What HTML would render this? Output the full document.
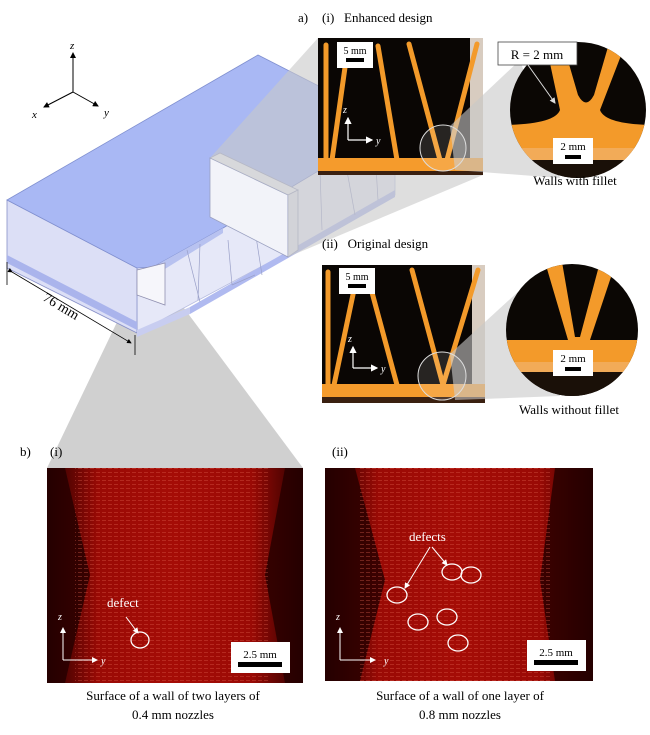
<!DOCTYPE html>
<html><head><meta charset="utf-8"><style>
html,body{margin:0;padding:0;background:#fff;}
svg{display:block;font-family:"Liberation Serif",serif;}
</style></head><body>
<svg width="650" height="735" viewBox="0 0 650 735" xmlns="http://www.w3.org/2000/svg">
<defs>
<marker id="ah" markerWidth="6" markerHeight="6" refX="5" refY="3" orient="auto"><path d="M0,0 L6,3 L0,6z" fill="#000"/></marker>
<marker id="aw" markerWidth="6" markerHeight="6" refX="5" refY="3" orient="auto"><path d="M0,0 L6,3 L0,6z" fill="#fff"/></marker>
<marker id="ag" markerWidth="6" markerHeight="6" refX="5" refY="3" orient="auto"><path d="M0,0 L6,3 L0,6z" fill="#ddd"/></marker>
<linearGradient id="rg" x1="0" x2="1"><stop offset="0" stop-color="#2a0000"/><stop offset="0.2" stop-color="#9a0a05"/><stop offset="0.5" stop-color="#a50c06"/><stop offset="0.8" stop-color="#9a0a05"/><stop offset="1" stop-color="#2a0000"/></linearGradient>
<pattern id="lines" width="6" height="4" patternUnits="userSpaceOnUse"><rect width="4" height="1" fill="#e06050" opacity="0.35"/></pattern>
</defs>

<!-- bottom grey projection -->
<polygon points="130,295 172,292 303,468 47,468" fill="#d0d0d0"/>

<!-- axes -->
<g stroke="#000" stroke-width="1">
<line x1="73" y1="92" x2="73" y2="53" marker-end="url(#ah)"/>
<line x1="73" y1="92" x2="44" y2="107" marker-end="url(#ah)"/>
<line x1="73" y1="92" x2="98" y2="106" marker-end="url(#ah)"/>
</g>
<g font-style="italic" font-size="11"><text x="70" y="49">z</text><text x="32" y="118">x</text><text x="104" y="116">y</text></g>

<!-- box -->
<polygon points="137,333 137,268 223,228 395,125 395,195" fill="#e6e8f8" stroke="#b8bde0" stroke-width="0.8"/>
<polygon points="7,200 137,268 137,333 7,268" fill="#dcdff6" stroke="#8890c8" stroke-width="0.8"/>
<polygon points="7,255 137,322 137,330 7,263" fill="#aab4ec"/>
<polygon points="7,200 258,55 395,125 223,228 153,267 137,268" fill="#a9b8f4" stroke="#8090d0" stroke-width="0.8"/>
<polygon points="153,267 223,228 223,233 160,272" fill="#b8c2f0"/>
<polygon points="190,307 395,190 395,197 190,314" fill="#b0baf0"/>
<polygon points="137,330 190,307 190,314 137,337" fill="#c8cdf0"/>
<g stroke="#9aa0c8" stroke-width="0.7" fill="none">
<line x1="187" y1="250" x2="200" y2="302"/><line x1="200" y1="244" x2="198" y2="300"/>
<line x1="228" y1="240" x2="232" y2="285"/><line x1="232" y1="285" x2="255" y2="275"/>
<line x1="255" y1="230" x2="262" y2="275"/><line x1="320" y1="170" x2="322" y2="230"/>
<line x1="345" y1="160" x2="355" y2="215"/><line x1="375" y1="150" x2="378" y2="200"/>
</g>
<!-- small wall -->
<polygon points="137,270 165,263 165,305 137,295" fill="#f6f6fb" stroke="#9090b0" stroke-width="0.8"/>
<!-- large block -->
<polygon points="210,158 220,153 298,190 288,195" fill="#eef0f8" stroke="#9aa0c0" stroke-width="0.8"/>
<polygon points="210,158 288,195 288,257 210,217" fill="#f2f3f9" stroke="#9aa0c0" stroke-width="0.8"/>
<polygon points="288,195 298,190 298,250 288,257" fill="#e2e4f0" stroke="#9aa0c0" stroke-width="0.8"/>

<!-- top cone grey (translucent) -->
<polygon points="210,158 318,38 483,175 288,257 288,195" fill="#c8c8c8" fill-opacity="0.6"/>

<!-- dimension -->
<line x1="7" y1="262" x2="7" y2="285" stroke="#000" stroke-width="0.8"/>
<line x1="135" y1="335" x2="135" y2="355" stroke="#000" stroke-width="0.8"/>
<line x1="12" y1="272" x2="131" y2="343" stroke="#000" stroke-width="0.8" marker-end="url(#ah)" marker-start="url(#ah)"/>
<text x="42" y="300" font-size="14" transform="rotate(31 42 300)">76 mm</text>

<!-- a) labels -->
<text x="298" y="22" font-size="13">a)</text>
<text x="322" y="22" font-size="13">(i)&#160;&#160;&#160;Enhanced design</text>
<text x="322" y="248" font-size="13">(ii)&#160;&#160;&#160;Original design</text>

<!-- enhanced photo -->
<g>
<rect x="318" y="38" width="165" height="137" fill="#0a0604"/>
<rect x="470" y="38" width="13" height="137" fill="#d8ccc0"/>
<g stroke="#f39a2a" stroke-width="5" stroke-linecap="round">
<line x1="326" y1="45" x2="326" y2="165"/>
<line x1="332" y1="160" x2="348" y2="46"/>
<line x1="378" y1="46" x2="397" y2="160"/>
<line x1="409" y1="44" x2="440" y2="160"/>
<line x1="477" y1="44" x2="447" y2="160"/>
</g>
<rect x="318" y="158" width="165" height="13" fill="#f59b2c"/>
<rect x="318" y="171" width="165" height="4" fill="#3a2010"/>
<rect x="337" y="42" width="36" height="26" fill="#fff"/>
<text x="355" y="54" font-size="10" text-anchor="middle">5 mm</text>
<rect x="346" y="58" width="18" height="4" fill="#000"/>
<g stroke="#fff" stroke-width="1.2"><line x1="348" y1="140" x2="348" y2="118" marker-end="url(#aw)"/><line x1="348" y1="140" x2="372" y2="140" marker-end="url(#aw)"/></g>
<text x="343" y="113" font-size="10" font-style="italic" fill="#fff">z</text>
<text x="376" y="144" font-size="10" font-style="italic" fill="#fff">y</text>
</g>
<polygon points="450,126 520,60 560,178 455,170" fill="#c8c8c8" fill-opacity="0.6"/>
<circle cx="443" cy="148" r="23" fill="#fff" fill-opacity="0.12" stroke="#ddd" stroke-width="1"/>
<!-- circle zoom enhanced -->
<clipPath id="c1"><circle cx="578" cy="110" r="68"/></clipPath>
<g clip-path="url(#c1)">
<rect x="505" y="40" width="146" height="142" fill="#0b0704"/>
<path d="M545,40 L562,40 L578,95 Q586,110 594,95 L610,40 L627,40 L600,110 Q605,124 651,125 L651,160 L505,160 L505,125 Q555,124 560,110z" fill="#f39a2a"/>
<rect x="505" y="148" width="146" height="12" fill="#f2ab58"/>
<rect x="505" y="160" width="146" height="25" fill="#1a1008"/>
</g>
<rect x="553" y="138" width="40" height="26" fill="#fff"/>
<text x="573" y="150" font-size="11" text-anchor="middle">2 mm</text>
<rect x="565" y="155" width="16" height="4" fill="#000"/>
<rect x="498" y="42" width="79" height="23" fill="#fff" stroke="#444" stroke-width="0.8"/>
<text x="537" y="59" font-size="13" text-anchor="middle">R = 2 mm</text>
<line x1="528" y1="65" x2="555" y2="103" stroke="#ddd" stroke-width="1" marker-end="url(#ag)"/>
<text x="575" y="185" font-size="13" text-anchor="middle">Walls with fillet</text>

<!-- original photo -->
<g>
<rect x="322" y="265" width="163" height="138" fill="#0a0604"/>
<rect x="472" y="265" width="13" height="138" fill="#d8ccc0"/>
<g stroke="#f39a2a" stroke-width="5" stroke-linecap="round">
<line x1="328" y1="272" x2="328" y2="392"/>
<line x1="334" y1="385" x2="355" y2="285"/>
<line x1="370" y1="285" x2="397" y2="385"/>
<line x1="412" y1="270" x2="443" y2="385"/>
<line x1="478" y1="270" x2="443" y2="385"/>
</g>
<rect x="322" y="384" width="163" height="13" fill="#f59b2c"/>
<rect x="322" y="397" width="163" height="6" fill="#3a2010"/>
<rect x="339" y="268" width="36" height="26" fill="#fff"/>
<text x="357" y="280" font-size="10" text-anchor="middle">5 mm</text>
<rect x="348" y="284" width="18" height="4" fill="#000"/>
<g stroke="#fff" stroke-width="1.2"><line x1="353" y1="368" x2="353" y2="347" marker-end="url(#aw)"/><line x1="353" y1="368" x2="377" y2="368" marker-end="url(#aw)"/></g>
<text x="348" y="342" font-size="10" font-style="italic" fill="#fff">z</text>
<text x="381" y="372" font-size="10" font-style="italic" fill="#fff">y</text>
</g>
<polygon points="450,354 520,290 560,396 455,400" fill="#c8c8c8" fill-opacity="0.6"/>
<circle cx="442" cy="376" r="24" fill="#fff" fill-opacity="0.12" stroke="#ddd" stroke-width="1"/>
<clipPath id="c2"><circle cx="572" cy="330" r="66"/></clipPath>
<g clip-path="url(#c2)">
<rect x="505" y="262" width="136" height="137" fill="#0b0704"/>
<polygon points="545,262 562,262 575,337 580,337 600,262 616,262 590,340 641,340 641,372 505,372 505,340 568,340" fill="#f39a2a"/>
<rect x="505" y="362" width="136" height="10" fill="#f2ab58"/>
<rect x="505" y="372" width="136" height="30" fill="#1a1008"/>
</g>
<rect x="553" y="350" width="40" height="26" fill="#fff"/>
<text x="573" y="362" font-size="11" text-anchor="middle">2 mm</text>
<rect x="565" y="367" width="16" height="4" fill="#000"/>
<text x="569" y="414" font-size="13" text-anchor="middle">Walls without fillet</text>

<!-- b) -->
<text x="20" y="456" font-size="13">b)</text>
<text x="50" y="456" font-size="13">(i)</text>
<text x="332" y="456" font-size="13">(ii)</text>

<!-- red image i -->
<rect x="47" y="468" width="256" height="215" fill="url(#rg)"/>
<polygon points="47,468 65,468 90,575 65,683 47,683" fill="#240000" opacity="0.8"/>
<polygon points="303,468 285,468 265,575 285,683 303,683" fill="#240000" opacity="0.8"/>
<rect x="75" y="468" width="195" height="215" fill="url(#lines)"/>
<g stroke="#fff" stroke-width="1"><line x1="63" y1="660" x2="63" y2="628" marker-end="url(#aw)"/><line x1="63" y1="660" x2="97" y2="660" marker-end="url(#aw)"/></g>
<text x="58" y="620" font-size="10" font-style="italic" fill="#fff">z</text>
<text x="101" y="664" font-size="10" font-style="italic" fill="#fff">y</text>
<text x="107" y="607" font-size="13" fill="#fff">defect</text>
<line x1="126" y1="617" x2="138" y2="633" stroke="#fff" stroke-width="1" marker-end="url(#aw)"/>
<ellipse cx="140" cy="640" rx="9" ry="8" fill="none" stroke="#fff" stroke-width="1.3"/>
<rect x="231" y="642" width="59" height="31" fill="#fff"/>
<text x="260" y="658" font-size="11" text-anchor="middle">2.5 mm</text>
<rect x="238" y="662" width="44" height="5" fill="#000"/>
<text x="173" y="700" font-size="13" text-anchor="middle">Surface of a wall of two layers of</text>
<text x="173" y="719" font-size="13" text-anchor="middle">0.4 mm nozzles</text>

<!-- red image ii -->
<rect x="325" y="468" width="268" height="213" fill="url(#rg)"/>
<polygon points="325,468 355,468 385,580 360,681 325,681" fill="#240000" opacity="0.8"/>
<polygon points="593,468 555,468 540,580 555,681 593,681" fill="#240000" opacity="0.8"/>
<rect x="360" y="468" width="190" height="213" fill="url(#lines)"/>
<g stroke="#fff" stroke-width="1"><line x1="340" y1="660" x2="340" y2="628" marker-end="url(#aw)"/><line x1="340" y1="660" x2="375" y2="660" marker-end="url(#aw)"/></g>
<text x="336" y="620" font-size="10" font-style="italic" fill="#fff">z</text>
<text x="384" y="664" font-size="10" font-style="italic" fill="#fff">y</text>
<text x="409" y="541" font-size="13" fill="#fff">defects</text>
<line x1="430" y1="547" x2="405" y2="588" stroke="#fff" stroke-width="1" marker-end="url(#aw)"/>
<line x1="432" y1="547" x2="447" y2="565" stroke="#fff" stroke-width="1" marker-end="url(#aw)"/>
<g fill="none" stroke="#fff" stroke-width="1.3">
<ellipse cx="397" cy="595" rx="10" ry="8"/><ellipse cx="452" cy="572" rx="10" ry="8"/><ellipse cx="471" cy="575" rx="10" ry="8"/>
<ellipse cx="418" cy="622" rx="10" ry="8"/><ellipse cx="447" cy="617" rx="10" ry="8"/><ellipse cx="458" cy="643" rx="10" ry="8"/>
</g>
<rect x="527" y="640" width="59" height="31" fill="#fff"/>
<text x="556" y="656" font-size="11" text-anchor="middle">2.5 mm</text>
<rect x="534" y="660" width="44" height="5" fill="#000"/>
<text x="460" y="700" font-size="13" text-anchor="middle">Surface of a wall of one layer of</text>
<text x="460" y="719" font-size="13" text-anchor="middle">0.8 mm nozzles</text>
</svg>
</body></html>
